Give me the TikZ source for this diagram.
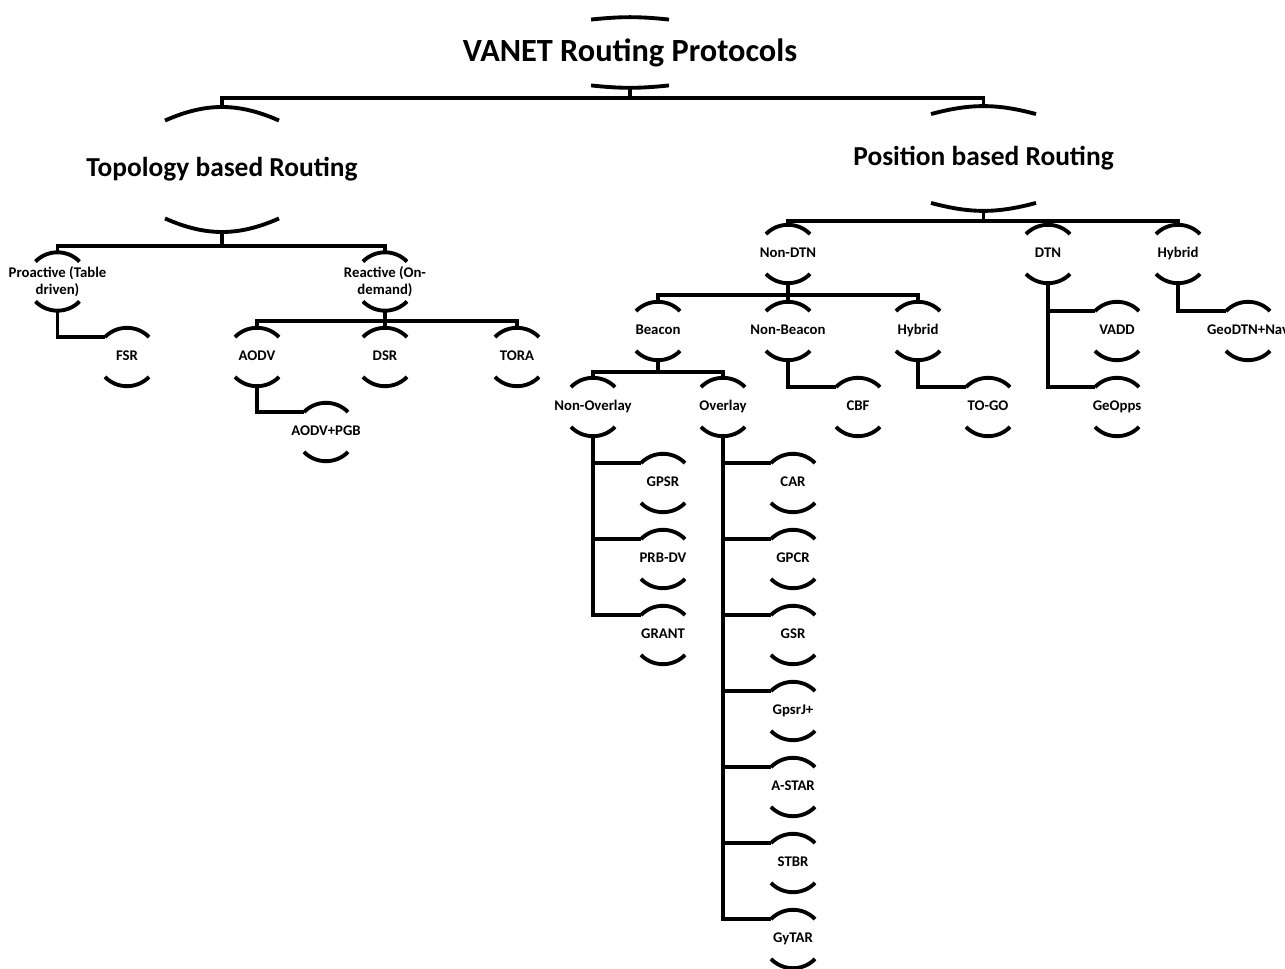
\documentclass[tikz,border=0pt]{standalone}
\usepackage{fontspec}
\setmainfont{Carlito}
\usetikzlibrary{positioning}

\tikzset{
  big/.style={font=\bfseries\fontsize{15.6}{18}\selectfont, inner sep=0pt},
  proto/.style={font=\bfseries\fontsize{8.4}{9.6}\selectfont, align=center, inner sep=0pt,
                text height=6.2pt, text depth=1.8pt, minimum height=1.1cm},
  twoline/.style={proto, text height=, text depth=},
  wire/.style={line width=2.2pt},
}

\begin{document}
\begin{tikzpicture}[on grid, wire]
  \useasboundingbox (0,0) rectangle (25.7,-19.38);

  \node [big, minimum height=1.34cm, font=\bfseries\fontsize{18.4}{21}\selectfont] (root) at (12.6,-1.05) {VANET Routing Protocols};
  \node [big, minimum height=2.42cm] (topo) [below left=2.34cm and 8.16cm of root] {Topology based Routing};
  \node [big, minimum height=2.02cm] (posi) [below right=2.12cm and 7.07cm of root] {Position based Routing};

  \node [twoline] (pro) [below left=2.24cm and 3.29cm of topo]  {Proactive (Table\\driven)};
  \node [twoline] (rea) [below right=2.24cm and 3.26cm of topo] {Reactive (On-\\demand)};
  \node [proto] (fsr)  [below right=1.51cm and 1.39cm of pro]  {FSR};
  \node [proto] (aodv) [below left=1.51cm and 2.56cm of rea]   {AODV};
  \node [proto] (dsr)  [below=1.51cm of rea]                   {DSR};
  \node [proto] (tora) [below right=1.51cm and 2.64cm of rea]  {TORA};
  \node [proto] (pgb)  [below right=1.5cm and 1.38cm of aodv]  {AODV+PGB};

  \node [proto] (ndtn) [below left=1.91cm and 3.91cm of posi]  {Non-DTN};
  \node [proto] (dtn)  [below right=1.91cm and 1.29cm of posi] {DTN};
  \node [proto] (hyb)  [below right=1.91cm and 3.89cm of posi] {Hybrid};
  \node [proto] (bea)  [below left=1.54cm and 2.6cm of ndtn]   {Beacon};
  \node [proto] (nbea) [below=1.54cm of ndtn]                  {Non-Beacon};
  \node [proto] (hybb) [below right=1.54cm and 2.6cm of ndtn]  {Hybrid};
  \node [proto] (vadd) [below right=1.54cm and 1.38cm of dtn]  {VADD};
  \node [proto] (geo)  [below=1.52cm of vadd]                  {GeOpps};
  \node [proto] (gnav) [below right=1.54cm and 1.4cm of hyb]   {GeoDTN+Nav};
  \node [proto] (nov)  [below left=1.52cm and 1.3cm of bea]    {Non-Overlay};
  \node [proto] (ov)   [below right=1.52cm and 1.3cm of bea]   {Overlay};
  \node [proto] (cbf)  [below right=1.52cm and 1.4cm of nbea]  {CBF};
  \node [proto] (togo) [below right=1.52cm and 1.4cm of hybb]  {TO-GO};

  \node [proto] (gpsr)  [below right=1.52cm and 1.4cm of nov] {GPSR};
  \node [proto] (prb)   [below=1.52cm of gpsr]  {PRB-DV};
  \node [proto] (grant) [below=1.52cm of prb]   {GRANT};
  \node [proto] (car)   [below right=1.52cm and 1.4cm of ov]  {CAR};
  \node [proto] (gpcr)  [below=1.52cm of car]   {GPCR};
  \node [proto] (gsr)   [below=1.52cm of gpcr]  {GSR};
  \node [proto] (gpsrj) [below=1.52cm of gsr]   {GpsrJ+};
  \node [proto] (astar) [below=1.52cm of gpsrj] {A-STAR};
  \node [proto] (stbr)  [below=1.52cm of astar] {STBR};
  \node [proto] (gytar) [below=1.52cm of stbr]  {GyTAR};

  \foreach \n/\w/\r/\b in {root/0.78/0.05/6, topo/1.14/0.27/24, posi/1.05/0.16/15}{
    \draw ([shift={(-\w,-\r)}]\n.north) to[bend left=\b] ([shift={(\w,-\r)}]\n.north);
    \draw ([shift={(-\w,\r)}]\n.south) to[bend right=\b] ([shift={(\w,\r)}]\n.south);
  }
  \foreach \n in {pro,rea,fsr,aodv,dsr,tora,pgb,ndtn,dtn,hyb,bea,nbea,hybb,vadd,geo,gnav,
                  nov,ov,cbf,togo,gpsr,prb,grant,car,gpcr,gsr,gpsrj,astar,stbr,gytar}{
    \draw ([shift={(-0.44,-0.19)}]\n.north) coordinate (\n-in) to[bend left=46] ([shift={(0.44,-0.19)}]\n.north);
    \draw ([shift={(-0.44,0.19)}]\n.south) to[bend right=46] ([shift={(0.44,0.19)}]\n.south);
  }

  \coordinate [below=0.2cm of root.south]  (rootbus);
  \coordinate [below=0.28cm of topo.south] (topobus);
  \coordinate [below=0.2cm of posi.south]  (posibus);
  \coordinate [below=0.2cm of rea.south]   (reabus);
  \coordinate [below=0.23cm of ndtn.south] (ndtnbus);
  \coordinate [below=0.23cm of bea.south]  (beabus);

  \draw (root.south) -- (rootbus);
  \draw (topo.north) |- (rootbus) -| (posi.north);
  \draw (topo.south) -- (topobus);
  \draw (pro.north) |- (topobus) -| (rea.north);
  \draw (rea.south) -- (dsr.north);
  \draw (aodv.north) |- (reabus) -| (tora.north);
  \draw (posi.south) -- (posibus);
  \draw (ndtn.north) |- (posibus) -| (hyb.north);
  \draw (dtn.north) |- (posibus);
  \draw (ndtn.south) -- (nbea.north);
  \draw (bea.north) |- (ndtnbus) -| (hybb.north);
  \draw (bea.south) -- (beabus);
  \draw (nov.north) |- (beabus) -| (ov.north);

  \draw (pro.south) |- (fsr-in);
  \draw (aodv.south) |- (pgb-in);
  \draw (nbea.south) |- (cbf-in);
  \draw (hybb.south) |- (togo-in);
  \draw (dtn.south) |- (vadd-in);
  \draw (dtn.south) |- (geo-in);
  \draw (hyb.south) |- (gnav-in);
  \foreach \c in {gpsr,prb,grant}
    \draw (nov.south) |- (\c-in);
  \foreach \c in {car,gpcr,gsr,gpsrj,astar,stbr,gytar}
    \draw (ov.south) |- (\c-in);
\end{tikzpicture}
\end{document}
